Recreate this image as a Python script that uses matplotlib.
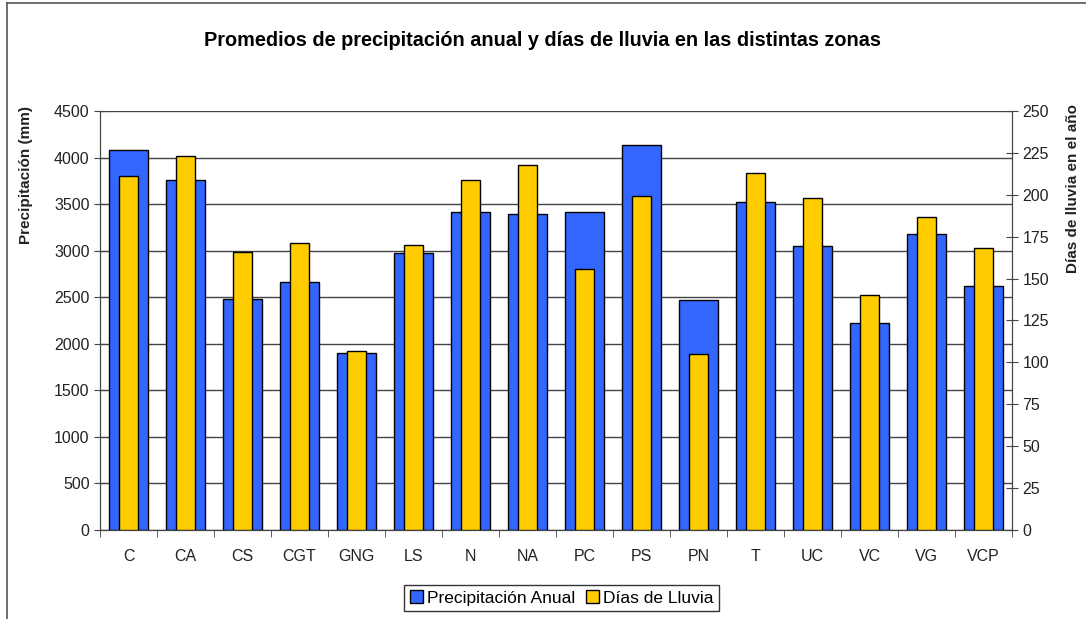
import numpy as np
import matplotlib
matplotlib.use("Agg")
import matplotlib.pyplot as plt
from matplotlib.lines import Line2D

plt.rcParams['font.family'] = ['Liberation Sans', 'DejaVu Sans']

# Datos
zonas = ['C', 'CA', 'CS', 'CGT', 'GNG', 'LS', 'N', 'NA', 'PC', 'PS', 'PN',
         'T', 'UC', 'VC', 'VG', 'VCP']
precipitacion = [4080, 3760, 2480, 2660, 1900, 2980, 3410, 3395, 3410, 4140,
                 2470, 3520, 3050, 2220, 3180, 2620]
dias_lluvia = [211, 223, 166, 171, 107, 170, 209, 218, 156, 199, 105, 213,
               198, 140, 187, 168]

azul = '#3366FF'
amarillo = '#FFCC00'

fig = plt.figure(figsize=(10.86, 6.19), dpi=100)
ax = fig.add_axes([0.0921, 0.1438, 0.8398, 0.6769])
ax2 = ax.twinx()

x = np.arange(len(zonas))

# grid
ax.set_ylim(0, 4500)
ax.set_yticks(np.arange(0, 4501, 500))
ax.yaxis.grid(True, color='#444444', linewidth=1)
ax.set_axisbelow(True)

b1 = ax.bar(x, precipitacion, width=0.67, color=azul, edgecolor='black',
            linewidth=1, zorder=2)
ax2.set_ylim(0, 250)
ax2.set_yticks(np.arange(0, 251, 25))
b2 = ax2.bar(x, dias_lluvia, width=0.33, color=amarillo, edgecolor='black',
             linewidth=1, zorder=3)

ax.set_xlim(-0.5, len(zonas) - 0.5)
ax.set_xticks(x)
ax.set_xticklabels(zonas)
ax.set_xticks(np.arange(-0.5, len(zonas), 1), minor=True)
ax.tick_params(axis='x', which='major', length=0, pad=14, labelsize=11.5,
               labelcolor='#222222')
ax.tick_params(axis='x', which='minor', length=5, color='#444444')
ax.tick_params(axis='y', direction='inout', length=8, labelsize=11.5,
               labelcolor='#222222', color='#444444')
ax2.tick_params(axis='y', direction='inout', length=8, labelsize=11.5,
                labelcolor='#222222', color='#444444')

for a in (ax, ax2):
    for s in a.spines.values():
        s.set_color('#444444')
    a.spines['top'].set_visible(False)

ax.set_ylabel('Precipitación (mm)', fontsize=11, fontweight='bold',
              color='#222222')
ax.yaxis.set_label_coords(-0.073, 0.847)
ax2.set_ylabel('Días de lluvia en el año', fontsize=11, fontweight='bold',
               color='#222222')
ax2.yaxis.set_label_coords(1.059, 0.814)

fig.suptitle('Promedios de precipitación anual y días de lluvia en las distintas zonas',
             fontsize=14.3, fontweight='bold', y=0.935, x=0.5, va='center')

leg = fig.legend([b1, b2], ['Precipitación Anual', 'Días de Lluvia'],
                 loc='center', bbox_to_anchor=(0.517, 0.034), ncol=2,
                 fontsize=12.5, frameon=True, fancybox=False,
                 handlelength=0.75, handleheight=0.75, handletextpad=0.25,
                 columnspacing=0.6, borderpad=0.3, borderaxespad=0)
leg.get_frame().set_edgecolor('black')
leg.get_frame().set_linewidth(1)

# marco exterior
fig.add_artist(Line2D([0.0064, 0.0064], [0, 0.995], color='#555555', lw=1.2))
fig.add_artist(Line2D([0.0064, 1], [0.995, 0.995], color='#555555', lw=1.2))

fig.savefig('out.png', dpi=100)
